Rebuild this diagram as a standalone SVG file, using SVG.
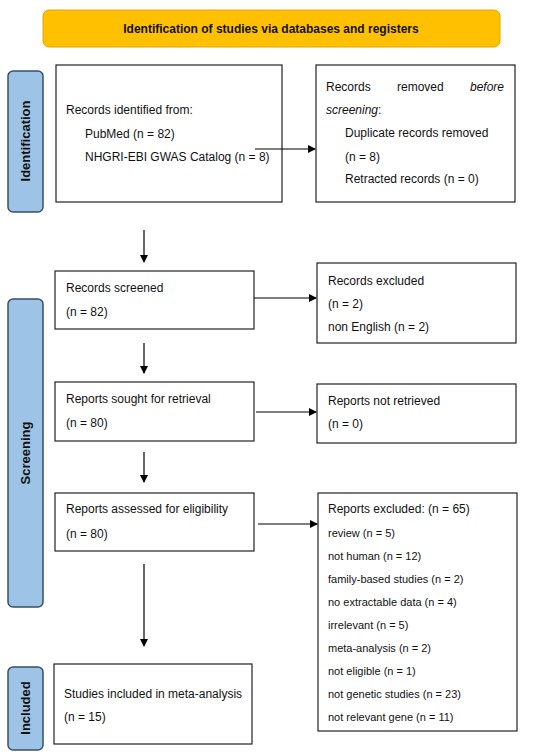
<svg xmlns="http://www.w3.org/2000/svg" width="550" height="756" viewBox="0 0 550 756">
<defs>
<marker id="ah" markerWidth="8" markerHeight="8" refX="7" refY="4" orient="auto" markerUnits="userSpaceOnUse">
<path d="M0,0 L8,4 L0,8 Z" fill="#000"/>
</marker>
<style>
text{font-family:"Liberation Sans",Arial,sans-serif;font-size:12px;fill:#111}
.box{fill:#fff;stroke:#222;stroke-width:1.2}
.side{fill:#9DC3E6;stroke:#3A5068;stroke-width:1.5}
.lab{font-weight:bold;font-size:12px}
.slab{font-weight:bold;font-size:13px}
.sm{font-size:11px}
.conn line{stroke:#000;stroke-width:1.2;marker-end:url(#ah)}
</style>
</defs>
<rect width="550" height="756" fill="#fff"/>
<g id="banner">
<rect x="43" y="10" width="457" height="37" rx="6" fill="#FFC000" stroke="#E0A800" stroke-width="1"/>
<text x="271" y="33" text-anchor="middle" class="lab">Identification of studies via databases and registers</text>
</g>
<g id="lbl-identification">
<rect x="8" y="71" width="35" height="141" rx="5" class="side"/>
<text transform="translate(30,141) rotate(-90)" text-anchor="middle" class="slab">Identification</text>
</g>
<g id="lbl-screening">
<rect x="8" y="299" width="35" height="308" rx="5" class="side"/>
<text transform="translate(30,453) rotate(-90)" text-anchor="middle" class="slab">Screening</text>
</g>
<g id="lbl-included">
<rect x="8" y="667" width="35" height="83" rx="5" class="side"/>
<text transform="translate(30,708) rotate(-90)" text-anchor="middle" class="slab">Included</text>
</g>
<g id="n-identified">
<rect x="56" y="65" width="226" height="137" class="box"/>
<text x="66" y="114">Records identified from:</text>
<text x="85" y="138">PubMed (n = 82)</text>
<text x="85" y="161">NHGRI-EBI GWAS Catalog (n = 8)</text>
</g>
<g id="n-removed">
<rect x="316" y="65" width="199" height="137" class="box"/>
<text x="326" y="91">Records</text>
<text x="397" y="91">removed</text>
<text x="504" y="91" text-anchor="end" font-style="italic">before</text>
<text x="326" y="114"><tspan font-style="italic">screening</tspan>:</text>
<text x="345" y="137">Duplicate records removed</text>
<text x="345" y="161">(n = 8)</text>
<text x="345" y="183">Retracted records (n = 0)</text>
</g>
<g id="n-screened">
<rect x="55" y="271" width="199" height="58" class="box"/>
<text x="66" y="292">Records screened</text>
<text x="66" y="316">(n = 82)</text>
</g>
<g id="n-excluded">
<rect x="317" y="263" width="199" height="80" class="box"/>
<text x="328" y="285">Records excluded</text>
<text x="328" y="308">(n = 2)</text>
<text x="328" y="331">non English (n = 2)</text>
</g>
<g id="n-sought">
<rect x="55" y="382" width="199" height="59" class="box"/>
<text x="66" y="403">Reports sought for retrieval</text>
<text x="66" y="427">(n = 80)</text>
</g>
<g id="n-notretrieved">
<rect x="317" y="384" width="199" height="59" class="box"/>
<text x="328" y="405">Reports not retrieved</text>
<text x="328" y="428">(n = 0)</text>
</g>
<g id="n-assessed">
<rect x="55" y="493" width="199" height="58" class="box"/>
<text x="66" y="513">Reports assessed for eligibility</text>
<text x="66" y="538">(n = 80)</text>
</g>
<g id="n-reportsexcluded">
<rect x="318" y="493" width="199" height="238" class="box"/>
<text x="328" y="513">Reports excluded: (n = 65)</text>
<text x="328" y="537" class="sm">review (n = 5)</text>
<text x="328" y="560" class="sm">not human (n = 12)</text>
<text x="328" y="583" class="sm">family-based studies (n = 2)</text>
<text x="328" y="606" class="sm">no extractable data (n = 4)</text>
<text x="328" y="629" class="sm">irrelevant (n = 5)</text>
<text x="328" y="652" class="sm">meta-analysis (n = 2)</text>
<text x="328" y="675" class="sm">not eligible (n = 1)</text>
<text x="328" y="698" class="sm">not genetic studies (n = 23)</text>
<text x="328" y="721" class="sm">not relevant gene (n = 11)</text>
</g>
<g id="n-included">
<rect x="54" y="664" width="198" height="80" class="box"/>
<text x="64" y="698">Studies included in meta-analysis</text>
<text x="64" y="721">(n = 15)</text>
</g>
<g class="conn" id="connectors">
<line x1="255" y1="149" x2="315" y2="149"/>
<line x1="144" y1="230" x2="144" y2="262"/>
<line x1="254" y1="298" x2="316" y2="298"/>
<line x1="144" y1="343" x2="144" y2="373"/>
<line x1="256" y1="412" x2="316" y2="412"/>
<line x1="144" y1="452" x2="144" y2="482"/>
<line x1="258" y1="524" x2="317" y2="524"/>
<line x1="144" y1="564" x2="144" y2="646"/>
</g>
</svg>
